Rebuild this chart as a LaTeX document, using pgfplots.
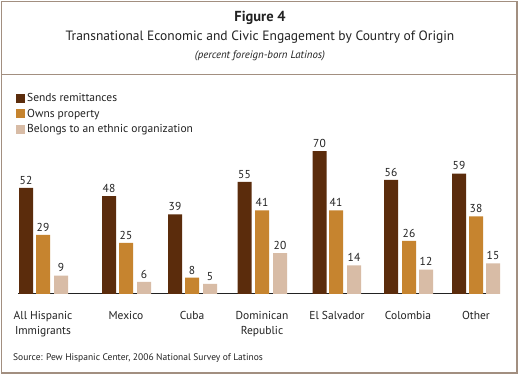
\documentclass[border=0pt]{standalone}
\usepackage{fontspec}
\setmainfont{PT Sans}
\usepackage{pgfplots}
\pgfplotsset{compat=1.18}
\definecolor{cA}{HTML}{5B2C0C}
\definecolor{cB}{HTML}{C6842F}
\definecolor{cC}{HTML}{D8BCA6}
\definecolor{frm}{HTML}{A28F80}
\definecolor{txt}{HTML}{222222}
\begin{document}
\begin{tikzpicture}[x=1pt,y=1pt]
\fill[white] (0,0) rectangle (520,375);
\draw[frm, line width=1.5pt] (1.5,2) rectangle (517,373.5);
\draw[frm, line width=1.5pt] (1.5,300.5) -- (517,300.5);
\node[text=txt, font=\bfseries\fontsize{14.5}{16}\selectfont] at (260,357) {Figure 4};
\node[text=txt, font=\fontsize{13.5}{15}\selectfont] at (260,338) {Transnational Economic and Civic Engagement by Country of Origin};
\node[text=txt, font=\itshape\fontsize{10.8}{12}\selectfont] at (260,319) {(percent foreign-born Latinos)};
\node[text=txt, font=\fontsize{9.5}{11}\selectfont, anchor=west, inner sep=0pt] at (13,17) {Source: Pew Hispanic Center, 2006 National Survey of Latinos};
\begin{axis}[
  at={(18pt,81pt)}, anchor=south west,
  scale only axis, width=482pt, height=153pt,
  xmin=18, xmax=500, ymin=0, ymax=75,
  axis x line*=bottom, axis y line=none,
  x axis line style={draw=txt, line width=1pt, -},
  ytick=\empty,
  xtick={43,126,192,262,337,408,476},
  xticklabels={All Hispanic\\Immigrants, Mexico, Cuba, Dominican\\Republic, El Salvador, Colombia, Other},
  major tick length=0pt,
  xticklabel style={align=center, font=\fontsize{11.5}{15}\selectfont, text=txt, yshift=-14pt},
  /pgf/number format/assume math mode=true,
  clip=false,
  nodes near coords,
  every node near coord/.append style={font=\fontsize{11.5}{14}\selectfont, text=txt},
  legend cell align=left,
  legend style={at={(-0.0104,1.34)}, anchor=north west, draw=none, fill=none,
    font=\fontsize{11.5}{14}\selectfont, text=txt, row sep=2pt},
  legend image code/.code={\fill[#1, draw=none] (0pt,-4.5pt) rectangle (9pt,4.5pt);},
]
\addplot[ybar, bar shift=0pt, bar width=14, fill=cA, draw=none] coordinates {(26,52) (109,48) (175,39) (244.5,55) (319.5,70) (391,56) (459,59)};
\addlegendentry{Sends remittances}
\addplot[ybar, bar shift=0pt, bar width=14, fill=cB, draw=none] coordinates {(43,29) (126,25) (192,8) (262,41) (336,41) (409,26) (476,38)};
\addlegendentry{Owns property}
\addplot[ybar, bar shift=0pt, bar width=14, fill=cC, draw=none] coordinates {(61,9) (144,6) (210,5) (280,20) (354,14) (426,12) (493,15)};
\addlegendentry{Belongs to an ethnic organization}
\end{axis}
\end{tikzpicture}
\end{document}
